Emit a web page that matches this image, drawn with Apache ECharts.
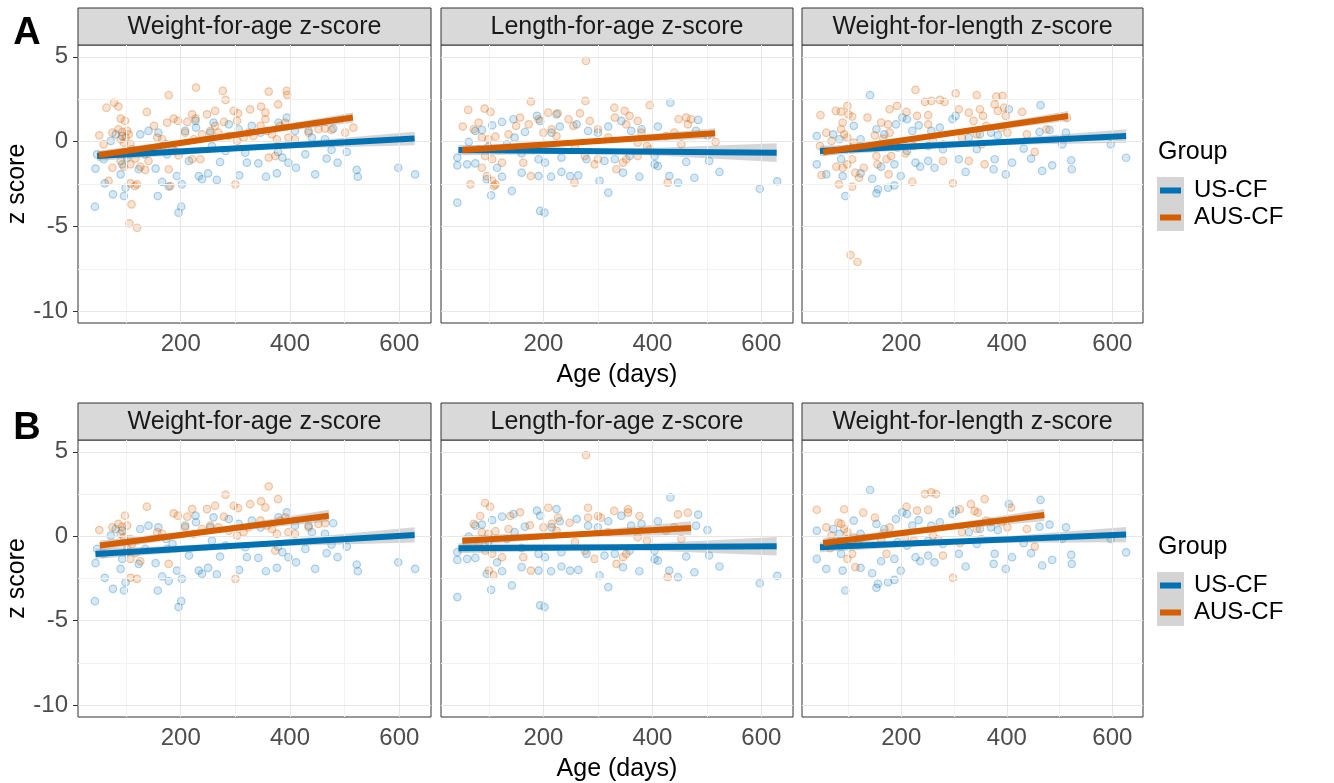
<!DOCTYPE html>
<html>
<head>
<meta charset="utf-8">
<script src="https://cdn.jsdelivr.net/npm/echarts@6/dist/echarts.min.js"></script>
<style>
html, body { margin: 0; background: #fff; }
#chart { width: 1334px; height: 783px; }
</style>
</head>
<body>
<div id="chart"></div>
<script>
// ---- data ----
const panelTitles = ['Weight-for-age z-score', 'Length-for-age z-score', 'Weight-for-length z-score']
const rowLabels = ['A', 'B']
const groupNames = ['US-CF', 'AUS-CF']
const xTicks = [200, 400, 600]
const yTicks = [-10, -5, 0, 5]
const xGridMajor = [200, 400, 600]
const xGridMinor = [100, 300, 500]
const yGridMajor = [-10, -5, 0, 5]
const yGridMinor = [-7.5, -2.5, 2.5]

// US-CF points [age, z] (same children in A and B)
const usWaz = [[43,-3.84],[44,-1.59],[61,-2.46],[76,-3.11],[96,-3.21],[99,-2.72],[90,-1.93],[123,-1.63],[158,-3.21],[166,-2.38],[178,-2.65],[196,-4.19],[201,-3.84],[193,-2.03],[202,-2.52],[233,-2.03],[239,-2.22],[250,-1.87],[266,-2.26],[215,-1.14],[272,-1.2],[307,-1.99],[321,-1.24],[342,-1.28],[356,-2.07],[376,-1.87],[397,-1.24],[411,-1.54],[446,-1.93],[467,-1.0],[487,-1.24],[476,-0.49],[522,-1.67],[524,-2.07],[598,-1.54],[629,-1.93],[504,-0.61],[479,0.77],[72,0.04],[81,0.43],[93,0.33],[126,0.43],[141,0.63],[159,0.53],[173,-0.16],[185,-0.45],[208,0.63],[228,0.83],[227,1.22],[254,0.53],[260,1.12],[288,1.02],[306,0.73],[330,0.93],[346,0.53],[379,1.12],[394,1.42],[409,0.63],[434,0.63],[440,0.24],[464,0.14],[47,-0.75],[59,-1.04],[93,-1.34],[102,-0.94],[154,-1.59],[135,-0.75],[175,-0.75],[257,-0.26],[282,-0.55],[318,-0.65],[378,-0.61],[386,-0.94],[428,-0.75]]
const usLaz = [[42,-3.6],[104,-3.17],[142,-2.91],[194,-4.09],[202,-4.19],[319,-3.01],[303,-2.32],[42,-0.94],[42,-1.4],[60,-1.34],[75,-1.28],[115,-1.54],[124,-2.07],[96,-2.22],[160,-1.83],[191,-2.03],[214,-2.07],[233,-1.79],[249,-2.03],[264,-1.99],[346,-1.83],[376,-2.07],[404,-1.34],[410,-1.44],[431,-2.03],[447,-2.42],[477,-2.13],[523,-1.79],[597,-2.78],[629,-2.34],[75,0.63],[87,0.69],[106,0.96],[124,1.16],[145,1.32],[147,0.24],[166,0.57],[188,1.52],[194,1.22],[215,0.53],[224,1.61],[230,0.89],[261,1.02],[282,0.63],[300,0.53],[319,0.89],[343,1.22],[361,0.63],[380,0.73],[410,0.89],[433,2.3],[484,1.28],[480,0.63],[501,0.37],[160,-0.69],[191,-1.04],[203,-1.24],[233,-0.94],[279,-1.04],[312,-1.14],[331,-1.04],[358,-0.85],[404,-0.85],[462,-1.2],[504,-1.14],[63,-0.02],[99,-0.3],[133,-0.16]]
const usWlz = [[141,2.74],[40,0.33],[40,-1.34],[58,-1.93],[71,0.43],[83,0.14],[86,-1.04],[89,-2.03],[94,-3.21],[104,-0.35],[123,0.14],[110,0.93],[123,-1.87],[145,-2.19],[156,-2.81],[153,-3.05],[175,-2.72],[187,-2.58],[162,-1.48],[187,-1.34],[199,-2.03],[153,0.73],[168,0.43],[190,1.02],[202,1.42],[211,1.32],[221,0.63],[233,0.96],[193,-0.35],[211,-0.55],[227,-1.24],[236,-1.48],[251,-1.14],[263,-1.54],[257,0.63],[273,0.83],[297,1.32],[303,1.52],[309,-1.04],[322,-1.79],[328,0.24],[343,-0.45],[377,-1.04],[375,-1.63],[370,0.53],[383,0.37],[398,-1.93],[410,-1.24],[404,1.91],[432,-0.41],[446,-1.0],[464,2.15],[467,-1.73],[486,-1.4],[462,0.57],[481,0.69],[505,-0.16],[512,0.53],[522,-1.1],[523,-1.63],[597,-0.16],[626,-0.95],[279,-0.45],[349,0.43],[251,-0.26]]

// AUS-CF points, panel A
const ausWazA = [[228,3.19],[178,2.74],[277,2.99],[361,2.95],[394,2.99],[395,2.76],[282,2.46],[64,2.0],[78,2.3],[86,2.07],[138,1.75],[90,1.36],[98,1.22],[378,2.2],[327,1.9],[347,2.07],[355,1.71],[297,1.81],[305,1.67],[263,1.81],[248,1.61],[221,1.61],[227,1.36],[175,1.12],[187,1.36],[195,1.22],[212,1.16],[51,0.37],[59,-0.16],[75,0.53],[86,0.73],[93,0.57],[102,0.63],[105,0.43],[90,0.14],[99,0.24],[96,-0.06],[108,-0.16],[111,-0.45],[102,-0.75],[117,-1.0],[108,-1.34],[75,-1.54],[90,-1.14],[96,-1.48],[126,-1.48],[135,-1.67],[68,-2.32],[108,-2.46],[120,-2.52],[116,-2.62],[110,-3.7],[106,-4.82],[120,-5.08],[178,-1.63],[181,-2.62],[157,0.24],[166,0.14],[208,0.53],[224,0.14],[239,0.43],[254,0.63],[263,0.93],[279,1.16],[269,0.53],[288,0.33],[221,-1.04],[236,-1.04],[303,0.04],[315,0.24],[300,-2.52],[324,0.53],[333,0.33],[346,0.93],[358,0.63],[367,0.43],[376,0.14],[382,0.93],[391,1.12],[361,-0.94],[373,-0.85],[397,0.24],[409,0.14],[434,0.53],[452,0.73],[464,0.77],[476,0.69],[501,0.53],[516,0.83],[355,1.32],[303,1.22],[151,0.93],[190,-0.55],[196,-0.81],[141,-1.14]]
const ausLazA = [[278,4.76],[177,2.36],[277,2.4],[395,2.15],[62,1.87],[92,1.95],[103,1.75],[52,0.89],[81,1.12],[72,0.73],[87,0.24],[99,0.14],[112,0.3],[81,-0.45],[93,-0.85],[106,-1.04],[87,-1.54],[96,-2.03],[106,-2.32],[112,-2.52],[109,-2.62],[66,-2.52],[124,-1.24],[136,0.43],[150,0.93],[157,1.42],[173,1.02],[163,-1.24],[177,-2.03],[191,1.32],[209,1.71],[226,1.67],[200,0.53],[215,0.73],[224,0.33],[246,1.32],[255,0.93],[267,1.67],[258,-0.35],[276,-0.85],[294,-1.34],[300,-1.04],[285,1.22],[300,0.73],[319,0.24],[330,2.0],[331,1.42],[257,-2.42],[334,-1.63],[346,-1.24],[349,1.81],[358,1.52],[352,1.02],[373,1.22],[380,0.53],[390,-0.26],[395,-0.45],[352,-1.04],[373,-0.85],[425,0.33],[440,0.53],[448,1.32],[462,1.42],[471,1.32],[453,-0.16],[428,-2.42],[516,-0.02],[465,1.02],[373,-0.06]]
const ausWlzA = [[104,-6.69],[117,-7.1],[227,3.05],[303,2.85],[343,2.74],[380,2.66],[392,2.7],[245,2.34],[257,2.4],[273,2.46],[282,2.34],[178,1.91],[192,2.11],[98,2.11],[76,1.81],[86,1.77],[100,1.61],[107,1.48],[47,1.56],[89,1.12],[86,0.73],[92,0.43],[98,0.24],[58,0.53],[68,0.04],[46,-0.26],[110,-0.06],[120,-0.35],[89,-1.54],[107,-1.04],[98,-1.34],[77,-1.48],[49,-1.97],[113,-1.83],[120,-2.13],[82,-2.52],[107,-2.66],[136,1.42],[162,1.12],[175,1.02],[150,0.37],[166,0.18],[178,0.53],[153,-0.85],[172,-1.04],[181,-0.85],[129,-1.54],[155,-1.34],[176,-1.93],[221,-2.38],[210,1.75],[230,1.52],[251,1.56],[251,1.02],[208,-0.69],[224,-0.26],[260,0.04],[279,-0.16],[279,-1.14],[328,-1.14],[298,-2.46],[309,1.91],[328,1.71],[349,1.91],[355,1.52],[337,1.22],[361,0.93],[315,0.24],[343,0.43],[358,-1.34],[352,-0.16],[377,2.2],[383,1.81],[395,2.0],[398,1.52],[389,0.83],[401,0.53],[429,1.75],[438,0.43],[453,-0.61],[475,0.73],[514,1.4]]

// AUS-CF points, panel B
const ausWazB = [[51,0.37],[75,0.53],[86,0.73],[93,0.57],[98,1.22],[102,0.63],[90,0.14],[96,-0.06],[108,-0.16],[111,-0.45],[102,-0.75],[117,-1.0],[108,-1.34],[126,-1.48],[108,-2.46],[120,-2.52],[138,1.75],[157,0.24],[166,0.14],[178,-1.63],[187,1.36],[195,1.22],[208,0.53],[212,1.16],[221,1.61],[224,0.14],[239,0.43],[248,1.61],[254,0.63],[263,1.81],[269,0.53],[279,1.16],[282,2.46],[288,0.33],[297,1.81],[300,-2.52],[303,0.04],[305,1.67],[315,0.24],[324,0.53],[327,1.9],[346,0.93],[347,2.07],[355,1.71],[358,0.63],[361,2.95],[367,0.43],[373,-0.85],[376,0.14],[378,2.2],[382,0.93],[391,1.12],[397,0.24],[409,0.14],[434,0.53],[452,0.73],[464,0.77]]
const ausLazB = [[84,1.2],[93,1.97],[102,1.75],[72,0.73],[87,0.24],[99,0.14],[112,0.3],[81,-0.45],[93,-0.85],[106,-1.04],[100,-2.03],[108,-2.3],[124,-1.24],[139,1.2],[136,0.43],[157,1.42],[163,-1.24],[175,0.65],[177,-2.03],[200,0.53],[209,1.69],[215,0.73],[224,0.33],[227,1.1],[248,0.8],[258,-0.35],[276,-0.85],[278,4.8],[282,1.69],[282,1.1],[294,-1.34],[300,1.2],[305,1.1],[319,0.24],[330,1.5],[334,-1.63],[346,-1.24],[352,-1.04],[355,1.6],[355,1.4],[373,-0.06],[376,1.2],[390,-0.26],[425,0.33],[428,-2.42],[440,0.53],[447,1.3],[453,-0.16],[465,1.4]]
const ausWlzB = [[40,1.57],[81,0.8],[92,1.6],[128,1.4],[150,1.1],[58,0.53],[68,0.04],[86,0.73],[92,0.43],[98,0.24],[110,-0.06],[120,-0.35],[65,-0.7],[96,-0.2],[107,-1.04],[98,-1.34],[113,-1.83],[119,-0.5],[162,-0.2],[166,0.18],[178,0.53],[172,-1.04],[207,-0.1],[210,1.75],[230,1.52],[224,-0.26],[245,2.5],[251,1.56],[257,2.6],[260,0.04],[266,2.5],[270,-0.2],[279,-1.14],[298,-2.46],[311,1.6],[311,-0.4],[315,0.24],[332,1.9],[339,1.5],[343,0.43],[345,1.4],[352,-0.16],[358,2.2],[361,0.93],[370,0.85],[389,0.83],[401,0.53],[408,1.7],[438,0.43],[453,-0.61]]

// fitted lines [age start, z start, age end, z end]
const fitUsA = [[47,-0.85,628,0.18],[44,-0.5,628,-0.65],[46,-0.55,626,0.33]]
const fitAusA = [[50,-0.79,515,1.42],[51,-0.5,515,0.49],[52,-0.61,516,1.51]]
const fitUsB = [[44,-1.05,628,0.08],[44,-0.71,628,-0.59],[46,-0.65,626,0.1]]
const fitAusB = [[52,-0.55,471,1.22],[51,-0.26,471,0.49],[52,-0.4,471,1.26]]
// confidence band half-width [start, middle, end]
const bandUsA = [[0.3,0.12,0.4],[0.3,0.12,0.55],[0.3,0.12,0.4]]
const bandAusA = [[0.25,0.12,0.3],[0.25,0.12,0.3],[0.25,0.12,0.3]]
const bandUsB = [[0.3,0.13,0.45],[0.3,0.13,0.55],[0.3,0.13,0.45]]
const bandAusB = [[0.3,0.14,0.35],[0.3,0.14,0.4],[0.3,0.14,0.35]]

// ---- layout ----
const cols = [{ left: 78, width: 353 }, { left: 441, width: 352 }, { left: 802, width: 341 }]
const rows = [{ top: 45, height: 278, strip: 8 }, { top: 440, height: 277, strip: 403 }]
const colors = ['#0072B2', '#D55E00']
const pointFill = ['rgba(0,114,178,0.2)', 'rgba(213,94,0,0.22)']
const pointEdge = ['rgba(0,114,178,0.36)', 'rgba(213,94,0,0.38)']
const font = 'Liberation Sans, Arial, sans-serif'

const panelData = [
    { us: [usWaz, usLaz, usWlz], aus: [ausWazA, ausLazA, ausWlzA], fitUs: fitUsA, fitAus: fitAusA, bandUs: bandUsA, bandAus: bandAusA },
    { us: [usWaz, usLaz, usWlz], aus: [ausWazB, ausLazB, ausWlzB], fitUs: fitUsB, fitAus: fitAusB, bandUs: bandUsB, bandAus: bandAusB },
]

const chart = echarts.init(document.getElementById('chart'))
const grid = [], xAxis = [], yAxis = [], series = [], graphic = []

// grey confidence ribbon around a fitted line
const bandSeries = (idx, fit, hw) => {
    const xm = (fit[0] + fit[2]) / 2
    const ym = (fit[1] + fit[3]) / 2
    const upper = [[fit[0], fit[1] + hw[0]], [xm, ym + hw[1]], [fit[2], fit[3] + hw[2]]]
    const lower = [[fit[2], fit[3] - hw[2]], [xm, ym - hw[1]], [fit[0], fit[1] - hw[0]]]
    return {
        type: 'custom', xAxisIndex: idx, yAxisIndex: idx, silent: true, z: 4,
        data: [0],
        renderItem: (params, api) => ({
            type: 'polygon',
            shape: { points: upper.concat(lower).map(p => api.coord(p)) },
            style: { fill: 'rgba(153,153,153,0.4)' },
        }),
    }
}

rows.forEach((row, r) => {
    cols.forEach((col, c) => {
        const idx = r * 3 + c
        const pd = panelData[r]
        grid.push({ left: col.left, top: row.top, width: col.width, height: row.height, show: true, borderColor: '#333', borderWidth: 1, backgroundColor: '#fff' })
        xAxis.push({
            type: 'value', gridIndex: idx, min: 12, max: 658,
            name: (c === 1) ? 'Age (days)' : '', nameLocation: 'middle', nameGap: 40,
            nameTextStyle: { fontSize: 25, color: '#000', fontFamily: font },
            axisLine: { show: false },
            splitLine: { show: false },
            axisTick: { customValues: xTicks, length: 5, lineStyle: { color: '#333' } },
            axisLabel: { customValues: xTicks, fontSize: 24, color: '#4D4D4D', margin: 9, fontFamily: font },
        })
        yAxis.push({
            type: 'value', gridIndex: idx, min: -10.7, max: 5.7,
            name: (c === 0) ? 'z score' : '', nameLocation: 'middle', nameGap: 47,
            nameTextStyle: { fontSize: 25, color: '#000', fontFamily: font },
            axisLine: { show: false },
            splitLine: { show: false },
            axisTick: { show: c === 0, customValues: yTicks, length: 5, lineStyle: { color: '#333' } },
            axisLabel: { show: c === 0, customValues: yTicks, fontSize: 24, color: '#4D4D4D', margin: 10, fontFamily: font },
        })
        // grid lines drawn through the axes
        series.push({
            type: 'scatter', xAxisIndex: idx, yAxisIndex: idx, data: [], silent: true, z: 1,
            markLine: {
                silent: true, symbol: 'none', animation: false, label: { show: false },
                data: [
                    ...xGridMinor.map(v => ({ xAxis: v, lineStyle: { color: '#F2F2F2', width: 1, type: 'solid' } })),
                    ...yGridMinor.map(v => ({ yAxis: v, lineStyle: { color: '#F2F2F2', width: 1, type: 'solid' } })),
                    ...xGridMajor.map(v => ({ xAxis: v, lineStyle: { color: '#E6E6E6', width: 1, type: 'solid' } })),
                    ...yGridMajor.map(v => ({ yAxis: v, lineStyle: { color: '#E6E6E6', width: 1, type: 'solid' } })),
                ],
            },
        })
        ;[pd.us[c], pd.aus[c]].forEach((pts, g) => {
            series.push({
                type: 'scatter', name: groupNames[g], xAxisIndex: idx, yAxisIndex: idx, z: 2,
                symbol: 'circle', symbolSize: 7.5, data: pts,
                itemStyle: { color: pointFill[g], borderColor: pointEdge[g], borderWidth: 1.2 },
            })
        })
        series.push(bandSeries(idx, pd.fitUs[c], pd.bandUs[c]))
        series.push(bandSeries(idx, pd.fitAus[c], pd.bandAus[c]))
        ;[pd.fitUs[c], pd.fitAus[c]].forEach((f, g) => {
            series.push({
                type: 'line', xAxisIndex: idx, yAxisIndex: idx, z: 5, silent: true,
                symbol: 'none', data: [[f[0], f[1]], [f[2], f[3]]],
                lineStyle: { color: colors[g], width: 6, cap: 'butt' },
            })
        })
        // facet strip
        graphic.push({
            type: 'rect', silent: true,
            shape: { x: col.left, y: row.strip, width: col.width, height: row.top - row.strip },
            style: { fill: '#D9D9D9', stroke: '#333', lineWidth: 1 },
        })
        graphic.push({
            type: 'text', silent: true, x: col.left + col.width / 2, y: (row.strip + row.top) / 2 + 1,
            style: { text: panelTitles[c], fill: '#1A1A1A', font: '25px ' + font, align: 'center', verticalAlign: 'middle' },
        })
    })
    // panel letter
    graphic.push({
        type: 'text', silent: true, x: 27, y: row.strip + 26,
        style: { text: rowLabels[r], fill: '#000', font: 'bold 38px ' + font, align: 'center', verticalAlign: 'middle' },
    })
    // legend
    const ly = row.top + 107
    graphic.push({
        type: 'text', silent: true, x: 1158, y: ly,
        style: { text: 'Group', fill: '#000', font: '25px ' + font, align: 'left', verticalAlign: 'middle' },
    })
    groupNames.forEach((name, g) => {
        const ky = ly + 25 + g * 27
        graphic.push({
            type: 'rect', silent: true, shape: { x: 1157, y: ky, width: 27, height: 27 },
            style: { fill: '#D4D4D4' },
        })
        graphic.push({
            type: 'line', silent: true, shape: { x1: 1160, y1: ky + 13.5, x2: 1181, y2: ky + 13.5 },
            style: { stroke: colors[g], lineWidth: 6 },
        })
        graphic.push({
            type: 'text', silent: true, x: 1194, y: ky + 13.5,
            style: { text: name, fill: '#000', font: '24px ' + font, align: 'left', verticalAlign: 'middle' },
        })
    })
})

chart.setOption({
    animation: false,
    backgroundColor: '#fff',
    grid, xAxis, yAxis, series, graphic,
})
</script>
</body>
</html>
